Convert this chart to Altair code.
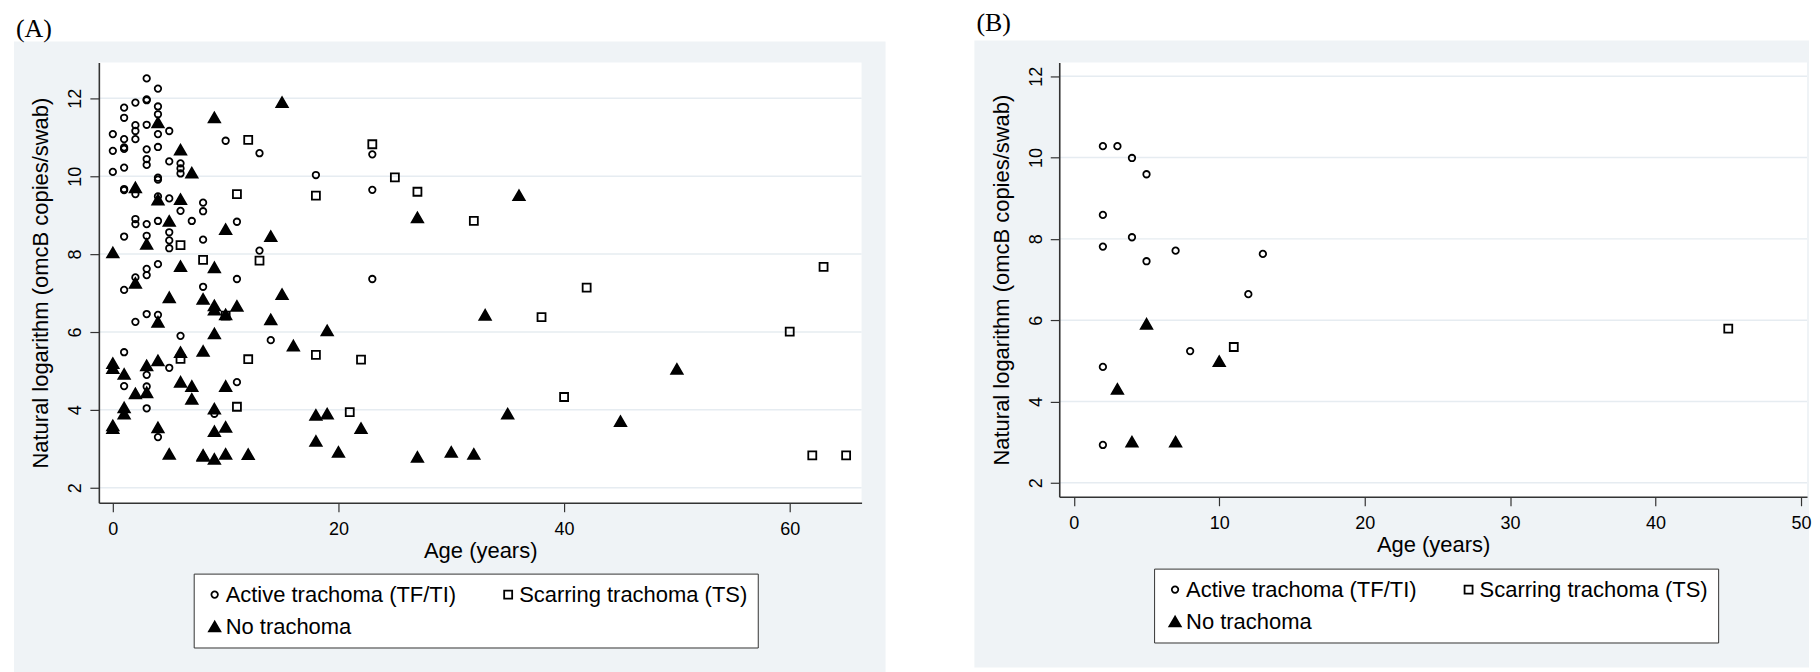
import altair as alt
import pandas as pd

CATEGORIES = ["Active trachoma (TF/TI)", "Scarring trachoma (TS)", "No trachoma"]
SHAPES = ["circle", "square", "triangle-up"]
FILLS = ["transparent", "transparent", "black"]
STROKES = ["black", "black", "black"]
SIZES = [42, 64, 130]

Y_TICKS = [2, 4, 6, 8, 10, 12]
A_X_TICKS = [0, 20, 40, 60]
B_X_TICKS = [0, 10, 20, 30, 40, 50]

# ---------------- Panel A ----------------
A_ACTIVE_AGE = [0, 0, 0,
                1, 1, 1, 1, 1, 1, 1, 1, 1, 1, 1, 1,
                2, 2, 2, 2, 2, 2, 2, 2, 2,
                3, 3, 3, 3, 3, 3, 3, 3, 3, 3, 3, 3, 3, 3, 3,
                4, 4, 4, 4, 4, 4, 4, 4, 4, 4, 4, 4,
                5, 5, 5, 5, 5, 5, 5,
                6, 6, 6, 6, 6,
                7,
                8, 8, 8, 8,
                9, 10,
                11, 11, 11,
                13, 13, 14, 18,
                23, 23, 23]
A_ACTIVE_LOG = [11.08, 10.65, 10.11,
                11.76, 11.50, 10.95, 10.74, 10.70, 10.22, 9.67, 9.64, 8.45, 7.08, 5.48, 4.61,
                11.89, 11.31, 11.16, 10.95, 9.54, 8.90, 8.77, 7.40, 6.26,
                12.51, 11.97, 11.95, 11.32, 10.69, 10.44, 10.29, 8.77, 8.47, 7.62, 7.46, 6.46, 4.90, 4.60, 4.04,
                12.25, 11.79, 11.59, 11.08, 10.75, 9.96, 9.91, 9.48, 8.85, 7.74, 6.44, 3.30,
                11.16, 10.38, 9.43, 8.56, 8.35, 8.15, 5.08,
                10.33, 10.20, 10.07, 9.11, 5.90,
                8.85,
                9.32, 9.10, 8.37, 7.16,
                3.90, 10.91,
                8.83, 7.36, 4.71,
                10.59, 8.09, 5.79, 10.03,
                10.56, 9.65, 7.36]

A_SCAR_AGE = [6, 6, 8, 10, 11, 11, 12, 12, 13, 18, 18, 21, 22, 23, 25, 27, 32, 38, 40, 42, 60, 62, 63, 65]
A_SCAR_LOG = [8.23, 5.31, 7.85, 6.42, 9.54, 4.08, 10.93, 5.30, 7.83, 9.50, 5.41, 3.94, 5.29, 10.82,
              9.97, 9.60, 8.85, 6.38, 4.33, 7.14, 6.01, 2.83, 7.67, 2.83]

A_NONE_AGE = [0, 0, 0, 0, 0,
              1, 1, 1,
              2, 2, 2,
              3, 3, 3,
              4, 4, 4, 4, 4,
              5, 5, 5,
              6, 6, 6, 6, 6,
              7, 7, 7,
              8, 8, 8, 8,
              9, 9, 9, 9, 9, 9, 9, 9,
              10, 10, 10, 10, 10,
              11, 12, 14, 14, 15, 15, 16, 18, 18, 19, 19, 20, 22, 27, 27,
              30, 32, 33, 35, 36, 45, 50]
A_NONE_LOG = [8.04, 5.20, 5.07, 3.60, 3.53,
              4.92, 4.06, 3.90,
              9.71, 7.26, 4.42,
              8.26, 5.14, 4.45,
              11.38, 9.40, 6.26, 5.27, 3.55,
              8.85, 6.89, 2.87,
              10.68, 9.41, 7.69, 5.48, 4.72,
              10.09, 4.61, 4.28,
              6.85, 5.51, 2.84, 2.82,
              11.51, 7.66, 6.68, 6.57, 5.96, 4.03, 3.45, 2.74,
              8.64, 6.45, 4.61, 3.56, 2.87,
              6.67, 2.86, 8.46, 6.32, 11.90, 6.97, 5.65, 3.87, 3.20, 6.04, 3.90, 2.92, 3.53, 8.94, 2.79,
              2.92, 2.87, 6.44, 3.90, 9.51, 3.71, 5.05]

# ---------------- Panel B ----------------
B_ACTIVE_AGE = [2, 3, 4, 5, 2, 4, 2, 5, 7, 13, 12, 8, 2, 2]
B_ACTIVE_LOG = [10.28, 10.28, 9.99, 9.59, 8.59, 8.04, 7.81, 7.45, 7.71, 7.63, 6.64, 5.24, 4.85, 2.93]
B_SCAR_AGE = [11, 45]
B_SCAR_LOG = [5.34, 5.79]
B_NONE_AGE = [5, 10, 3, 4, 7]
B_NONE_LOG = [5.91, 4.99, 4.31, 3.01, 3.01]

FONT = "Liberation Sans"
GREY = "#eff3f6"
GRID = "#e6ecf1"
AXC = "#333333"


def frame(groups):
    parts = []
    for cat, ages, vals in groups:
        parts.append(pd.DataFrame({"age": ages, "val": vals, "cat": cat}))
    return pd.concat(parts, ignore_index=True)


def make_yaxis(H):
    return alt.Axis(values=Y_TICKS, format="d", title="Natural logarithm (omcB copies/swab)",
                    titleFont=FONT, titleFontSize=22, titleFontWeight="normal", titleColor="black",
                    titleAngle=270, titleX=-58, titleY=H / 2, titleAlign="center", titleBaseline="middle",
                    labelFont=FONT, labelFontSize=18, labelColor="black", labelAngle=270,
                    labelAlign="center", labelBaseline="bottom", labelPadding=5,
                    labelFlush=False, labelOverlap=False,
                    tickSize=9, tickColor=AXC, tickWidth=1.2, domainColor=AXC, domainWidth=1.6,
                    grid=False, zindex=1)


def panel(df, label, W, H, xdom, ydom, xticks, gl, gr, gt, gb, leg_y, title_offset):
    xs = alt.Scale(domain=xdom, nice=False, zero=False)
    ys = alt.Scale(domain=ydom, nice=False, zero=False)
    one = pd.DataFrame({"k": [0]})

    bg = alt.Chart(one).mark_rect(fill=GREY).encode(
        x=alt.value(-gl), x2=alt.value(W + gr), y=alt.value(-gt), y2=alt.value(H + gb))
    plotbg = alt.Chart(one).mark_rect(fill="white").encode(
        x=alt.value(0), x2=alt.value(W), y=alt.value(0), y2=alt.value(H))
    grid = alt.Chart(pd.DataFrame({"val": Y_TICKS})).mark_rule(color=GRID, strokeWidth=1.5).encode(
        y=alt.Y("val:Q", scale=ys, axis=make_yaxis(H)), x=alt.value(0), x2=alt.value(W))

    leg = alt.Legend(title=None, orient="none", legendX=95, legendY=leg_y, direction="horizontal",
                     columns=2, fillColor="white", strokeColor=AXC, padding=10,
                     labelFont=FONT, labelFontSize=22, labelColor="black", labelOffset=0,
                     columnPadding=40, rowPadding=10, labelLimit=600,
                     symbolStrokeColor="black", symbolStrokeWidth=1.8)

    xaxis = alt.Axis(values=xticks, format="d", title="Age (years)", titleFont=FONT, titleFontSize=22,
                     titleFontWeight="normal", titleColor="black", titleX=W / 2, titleY=48,
                     titleAlign="center", titleBaseline="middle",
                     labelFont=FONT, labelFontSize=18, labelColor="black", labelPadding=9, labelAngle=0,
                     labelFlush=False, labelOverlap=False,
                     tickSize=9, tickColor=AXC, tickWidth=1.2, domainColor=AXC, domainWidth=1.6,
                     grid=False, zindex=1)

    pts = alt.Chart(df).mark_point(filled=True, strokeWidth=1.8, opacity=1).encode(
        x=alt.X("age:Q", scale=xs, axis=xaxis),
        y=alt.Y("val:Q", scale=ys, axis=make_yaxis(H)),
        shape=alt.Shape("cat:N", scale=alt.Scale(domain=CATEGORIES, range=SHAPES), legend=leg),
        fill=alt.Fill("cat:N", scale=alt.Scale(domain=CATEGORIES, range=FILLS), legend=leg),
        stroke=alt.Stroke("cat:N", scale=alt.Scale(domain=CATEGORIES, range=STROKES), legend=leg),
        size=alt.Size("cat:N", scale=alt.Scale(type="ordinal", domain=CATEGORIES, range=SIZES), legend=leg),
    )
    title = alt.Title(label, anchor="start", frame="group", dx=-83, offset=title_offset,
                      font="Liberation Serif", fontSize=26, fontWeight="normal", color="black",
                      baseline="top")
    return alt.layer(bg, plotbg, grid, pts).properties(width=W, height=H, title=title)


df_a = frame([(CATEGORIES[0], A_ACTIVE_AGE, A_ACTIVE_LOG),
              (CATEGORIES[1], A_SCAR_AGE, A_SCAR_LOG),
              (CATEGORIES[2], A_NONE_AGE, A_NONE_LOG)])
df_b = frame([(CATEGORIES[0], B_ACTIVE_AGE, B_ACTIVE_LOG),
              (CATEGORIES[1], B_SCAR_AGE, B_SCAR_LOG),
              (CATEGORIES[2], B_NONE_AGE, B_NONE_LOG)])

WA, HA = 764, 441
WB, HB = 749, 435
chart_a = panel(df_a, "(A)", WA, HA, [-1.24, 66.37], [1.615, 12.92], A_X_TICKS,
                85, 24, 21, 612 - HA, 512, 0)
chart_b = panel(df_b, "(B)", WB, HB, [-1.0, -1.0 + WB / 14.568], [1.656, 12.34], B_X_TICKS,
                85, 2, 22, 606 - HB, 507, 5)

chart = alt.hconcat(chart_a, chart_b, spacing=87).resolve_scale(
    shape="independent", fill="independent", stroke="independent", size="independent"
).properties(
    padding={"left": 5, "top": 0, "right": 0, "bottom": 0}
).configure_view(strokeWidth=0).configure(background="white")

chart.save("out.html", embed_options={"renderer": "svg", "actions": False})
